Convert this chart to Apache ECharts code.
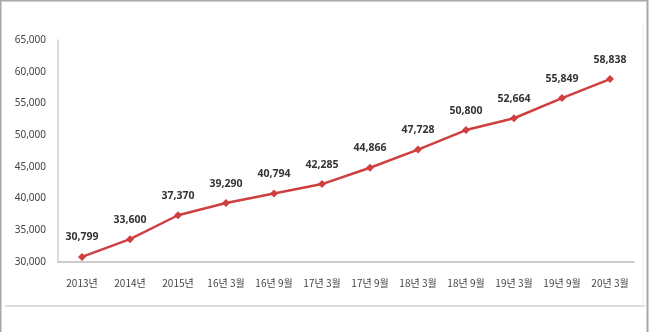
<!DOCTYPE html>
<html><head><meta charset="utf-8">
<script src="https://cdn.jsdelivr.net/npm/echarts@6/dist/echarts.min.js"></script>
<style>html,body{margin:0;padding:0;background:#fff}#c{width:650px;height:332px}</style>
</head><body><div id="c"></div>
<script>
const categories = ['2013년','2014년','2015년','16년 3월','16년 9월','17년 3월','17년 9월','18년 3월','18년 9월','19년 3월','19년 9월','20년 3월'];
const values = [30799,33600,37370,39290,40794,42285,44866,47728,50800,52664,55849,58838];
const yMin = 30000, yMax = 65000, yStep = 5000;

const chart = echarts.init(document.getElementById('c'));
chart.setOption({
  animation:false,
  backgroundColor:'#fff',
  graphic:[
    {type:'rect',shape:{x:0.5,y:0.5,width:647,height:340},style:{fill:'none',stroke:'#a8a8a8',lineWidth:2},silent:true},
    {type:'line',shape:{x1:5,y1:306,x2:645,y2:306},style:{stroke:'#dcdcdc',lineWidth:2},silent:true},
    {type:'line',shape:{x1:643,y1:24,x2:643,y2:306},style:{stroke:'#f0f0f0',lineWidth:1},silent:true}
  ],
  grid:{left:58,right:16,top:40,bottom:70,containLabel:false},
  xAxis:{
    type:'category',data:categories,boundaryGap:true,
    axisLine:{lineStyle:{color:'#bdbdbd',width:1.5}},
    axisTick:{show:false},
    axisLabel:{color:'#444',fontSize:10,margin:16,interval:0,fontFamily:'"Noto Sans CJK KR", sans-serif'}
  },
  yAxis:{
    type:'value',min:yMin,max:yMax,interval:yStep,
    axisLine:{show:true,lineStyle:{color:'#d0d0d0',width:1.5}},
    axisTick:{show:false},
    splitLine:{show:false},
    axisLabel:{color:'#444',fontSize:10,margin:12,fontFamily:'"Liberation Sans Narrow","Noto Sans",sans-serif',
      formatter:v=>v.toLocaleString('en-US')}
  },
  series:[{
    type:'line',data:values,
    lineStyle:{color:'#cf3f3f',width:2.5},
    itemStyle:{color:'#cf3f3f'},
    symbol:'diamond',symbolSize:8,
    label:{show:true,position:'top',distance:10,color:'#333',fontSize:10.5,fontWeight:'bold',
      fontFamily:'"Liberation Sans Narrow","Noto Sans",sans-serif',
      formatter:p=>p.value.toLocaleString('en-US')}
  }]
});
</script></body></html>
